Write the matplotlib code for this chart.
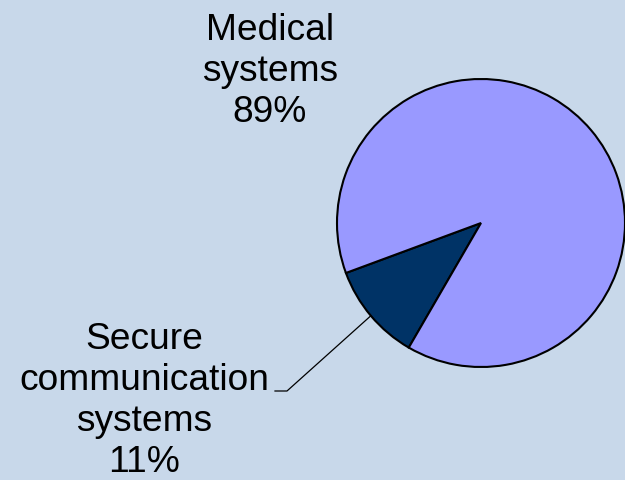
# Application share pie

import numpy as np
import matplotlib.pyplot as plt

labels = ['Secure\ncommunication\nsystems', 'Medical\nsystems']
shares = [11, 89]
colors = ['#003366', '#9999FF']
background = '#C8D8EA'

plt.rcParams['font.family'] = ['Liberation Sans', 'DejaVu Sans']

fig = plt.figure(figsize=(6.25, 4.8), dpi=100, facecolor=background)
ax = fig.add_axes([0, 0, 1, 1])
ax.set_facecolor(background)

# work in pixel-like units: x 0..625, y 0..480 (up)
center = (481, 257)
radius = 144
start = 200.3

wedges, _ = ax.pie(shares, colors=colors, startangle=start, counterclock=True,
                   center=center, radius=radius,
                   wedgeprops=dict(edgecolor='black', linewidth=1.5))
ax.set_xlim(0, 625)
ax.set_ylim(0, 480)
ax.set_aspect('equal')
ax.axis('off')

# data labels
texts = [f'{lab}\n{val}%' for lab, val in zip(labels, shares)]
ax.text(144, 480 - 322, texts[0], ha='center', va='top', fontsize=26.7,
        linespacing=1.22)
ax.text(270, 480 - 13, texts[1], ha='center', va='top', fontsize=26.7,
        linespacing=1.22)

# leader line for the small slice
w = wedges[0]
mid = np.deg2rad((w.theta1 + w.theta2) / 2)
ex = center[0] + radius * np.cos(mid)
ey = center[1] + radius * np.sin(mid)
ax.plot([275, 287, ex], [480 - 391, 480 - 391, ey], color='black', linewidth=0.9)

fig.savefig('out.png', dpi=100, facecolor=background)
